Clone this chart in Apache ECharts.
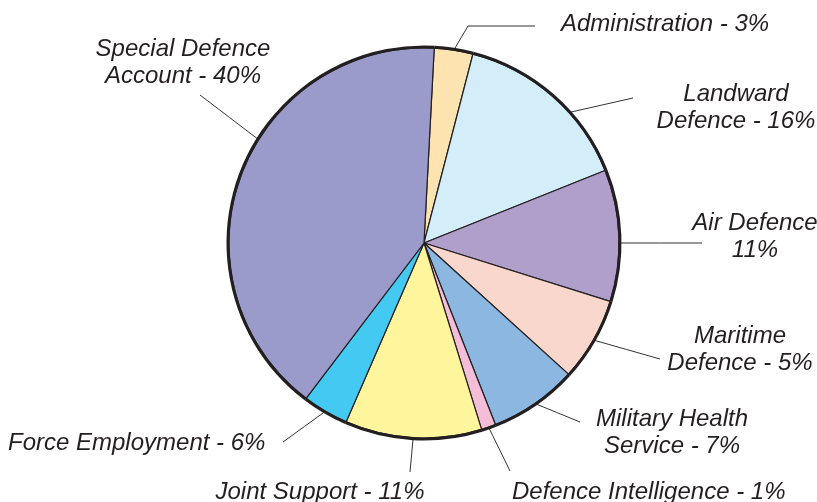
<!DOCTYPE html>
<html>
<head>
<meta charset="utf-8">
<script src="https://cdn.jsdelivr.net/npm/echarts@6/dist/echarts.min.js"></script>
<style>
html, body { margin: 0; padding: 0; background: #fff; }
#chart { width: 817px; height: 502px; }
</style>
</head>
<body>
<div id="chart"></div>
<script>
// 名称
const names = ['Administration', 'Landward Defence', 'Air Defence', 'Maritime Defence',
  'Military Health Service', 'Defence Intelligence', 'Joint Support', 'Force Employment',
  'Special Defence Account']
// 扇区大小（按图上的角度量的）
const values = [3.2, 14.9, 10.9, 6.9, 7.3, 1.2, 11.3, 3.8, 40.5]
// 图上标签文字
const labels = [
  'Administration - 3%',
  'Landward\nDefence - 16%',
  'Air Defence\n11%',
  'Maritime\nDefence - 5%',
  'Military Health\nService - 7%',
  'Defence Intelligence - 1%',
  'Joint Support - 11%',
  'Force Employment - 6%',
  'Special Defence\nAccount - 40%'
]
const colors = ['#FDE3AF', '#D3EDF9', '#B09ECB', '#FAD7CC', '#8BB7E1', '#F5BED8', '#FFF59C', '#44C9F3', '#9A9ACB']

const CX = 424
const CY = 243
const R = 195

// 标签位置 + 引线终点（at: 引线起点角度，可选）
const labelSpots = [
  { x: 561, y: 24, align: 'left', end: [535, 26], bend: [468, 26] },
  { x: 736, y: 108, align: 'center', end: [633, 98], at: 48 },
  { x: 755, y: 237, align: 'center', end: [702, 243], at: 90 },
  { x: 740, y: 350, align: 'center', end: [660, 359] },
  { x: 672, y: 433, align: 'center', end: [580, 422] },
  { x: 512, y: 492, align: 'left', end: [510, 471] },
  { x: 320, y: 492, align: 'center', end: [410, 472] },
  { x: 8, y: 443, align: 'left', end: [283, 442] },
  { x: 183, y: 63, align: 'center', end: [200, 95], at: 302 }
]

const myChart = echarts.init(document.getElementById('chart'))

const options = {
  animation: false,
  series: [
    {
      type: 'pie',
      center: [CX, CY],
      radius: R,
      startAngle: 87,
      clockwise: true,
      avoidLabelOverlap: false,
      data: values.map((v, i) => ({
        value: v,
        name: names[i],
        itemStyle: { color: colors[i] },
        label: { formatter: labels[i] }
      })),
      itemStyle: {
        borderColor: '#231F20',
        borderWidth: 1.2
      },
      label: {
        show: true,
        position: 'outside',
        color: '#231F20',
        fontFamily: 'Liberation Sans',
        fontStyle: 'italic',
        fontSize: 24,
        lineHeight: 27
      },
      labelLine: {
        show: true,
        length: 10,
        length2: 10,
        lineStyle: { color: '#333', width: 1 }
      },
      labelLayout: function (params) {
        const s = labelSpots[params.dataIndex]
        let p0 = params.labelLinePoints[0]
        if (s.at !== undefined) {
          const a = s.at * Math.PI / 180
          p0 = [CX + R * Math.sin(a), CY - R * Math.cos(a)]
        }
        const mid = s.bend || [(p0[0] + s.end[0]) / 2, (p0[1] + s.end[1]) / 2]
        return {
          x: s.x,
          y: s.y,
          align: s.align,
          verticalAlign: 'middle',
          labelLinePoints: [p0, mid, s.end]
        }
      },
      emphasis: { disabled: true }
    },
    // 外圈粗黑边
    {
      type: 'pie',
      center: [CX, CY],
      radius: [R - 0.5, R + 2.5],
      startAngle: 87,
      silent: true,
      data: values.map(v => ({ value: v })),
      itemStyle: { color: '#231F20', borderWidth: 0 },
      label: { show: false },
      labelLine: { show: false },
      emphasis: { disabled: true }
    }
  ]
}
myChart.setOption(options)
</script>
</body>
</html>
